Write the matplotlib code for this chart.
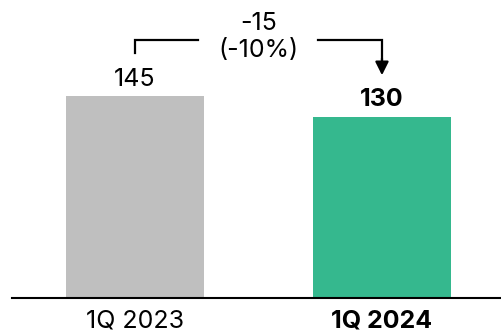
import matplotlib.pyplot as plt

plt.rcParams['font.family'] = ['Inter', 'DejaVu Sans']

periodos = ['1Q 2023', '1Q 2024']
valores = [145, 130]
colores = ['#BFBFBF', '#35B88E']
delta_abs = '-15'
delta_pct = '(-10%)'

fig = plt.figure(figsize=(5.02, 3.36), dpi=100)
ax = fig.add_axes([12 / 502, 38 / 336, 490 / 502, 298 / 336])

x = [0, 1]
ax.bar(x, valores, width=0.56, color=colores)

ax.set_xlim(-0.498, 1.486)
ax.set_ylim(0, 214)

for s in ['top', 'right', 'left']:
    ax.spines[s].set_visible(False)
ax.spines['bottom'].set_linewidth(1.5)
ax.spines['bottom'].set_color('black')
ax.set_yticks([])
ax.set_xticks(x)
ax.set_xticklabels(periodos, fontsize=18)
ax.tick_params(axis='x', length=0, pad=8)
ax.get_xticklabels()[1].set_fontweight('bold')

# etiquetas de valor
ax.annotate(str(valores[0]), (x[0], valores[0]), xytext=(0, 4),
            textcoords='offset points', ha='center', va='bottom', fontsize=18)
ax.annotate(str(valores[1]), (x[1], valores[1]), xytext=(0, 4),
            textcoords='offset points', ha='center', va='bottom',
            fontsize=18, fontweight='bold')

# corchete con flecha
y_top = 185
ax.plot([x[0], x[0], 0.255], [176, y_top, y_top], color='black', lw=1.6,
        solid_joinstyle='miter')
ax.plot([0.741, x[1], x[1]], [y_top, y_top, 170], color='black', lw=1.6,
        solid_joinstyle='miter')
ax.annotate('', xy=(x[1], 160), xytext=(x[1], 172),
            arrowprops=dict(arrowstyle='-|>,head_length=0.8,head_width=0.4',
                            color='black', lw=1.6, shrinkA=0, shrinkB=0))
ax.text(0.5, 197, delta_abs, ha='center', va='center', fontsize=18)
ax.text(0.5, 178, delta_pct, ha='center', va='center', fontsize=18)

fig.savefig('out.png', dpi=100)
